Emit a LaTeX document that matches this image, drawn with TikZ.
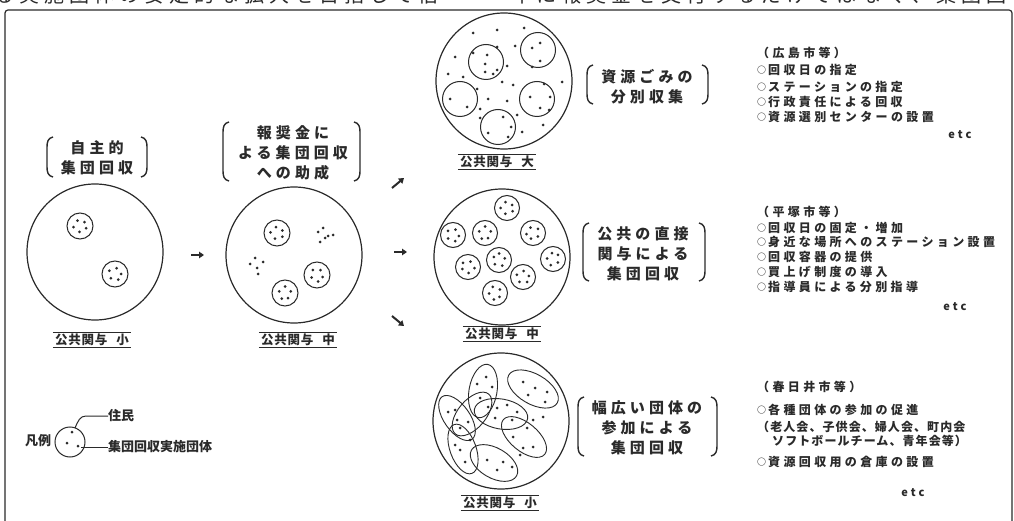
\documentclass[tikz,border=0pt]{standalone}
\usepackage{fontspec}
\usetikzlibrary{arrows.meta}
\newfontfamily\jp{Noto Sans CJK JP}
\newfontfamily\jplab[LetterSpace=27]{Noto Sans CJK JP}
\newfontfamily\jplist[LetterSpace=28]{Noto Sans CJK JP}
\newfontfamily\jpnar[LetterSpace=9]{Noto Sans CJK JP}
\newfontfamily\jpund[LetterSpace=6]{Noto Sans CJK JP}
\newfontfamily\jptop[LetterSpace=25]{Noto Sans CJK JP}
\definecolor{ink}{HTML}{2A2A2A}
\newcommand\bul{\raisebox{1pt}{\fontsize{9}{9}\selectfont ○}\hspace{2pt}}
\newcommand\mybrk[4]{%
 \draw[brk] ({#1+6},#3) .. controls ({#1+1},{#3+1}) and (#1,{#3+5}) .. (#1,{#3+10}) -- (#1,{#4-10}) .. controls (#1,{#4-5}) and ({#1+1},{#4-1}) .. ({#1+6},#4);
 \draw[brk] ({#2-6},#3) .. controls ({#2-1},{#3+1}) and (#2,{#3+5}) .. (#2,{#3+10}) -- (#2,{#4-10}) .. controls (#2,{#4-5}) and ({#2-1},{#4-1}) .. ({#2-6},#4);}
\newcommand\grp[4]{%
 \draw[smallc] (#1,#2) circle[radius=#3];
 \foreach \a/\r in {20/6.5, 95/6, 170/6.5, 245/6, 320/6}
   \fill[ink] ([shift={(\a+#4:\r)}]#1,#2) circle[radius=1.5];}
\newcommand\kyoyo[4]{%
 \node[ulab] (#1) at (#2,#3) {公共関与\hspace{9pt}#4};
 \draw[uline] (#1.north west) -- (#1.north east) (#1.south west) -- (#1.south east);}
\newcommand\mydots[1]{\foreach \p in {#1} \fill[ink] (\p) circle[radius=1.5];}
\begin{document}
\begin{tikzpicture}[x=1pt,y=-1pt,
  big/.style={circle, draw=ink, line width=1.2pt, minimum size=136pt, inner sep=0pt},
  smallc/.style={draw=ink, line width=1pt},
  ell/.style={draw=ink, line width=0.9pt},
  brk/.style={draw=ink, line width=1.4pt},
  blab/.style={align=center, text=ink, inner sep=0pt, font=\jplab\bfseries\fontsize{15}{20}\selectfont},
  ulab/.style={text=ink, inner xsep=2pt, inner ysep=1.5pt, font=\jpund\bfseries\fontsize{12.5}{13}\selectfont},
  uline/.style={draw=ink, line width=1.1pt},
  lst/.style={anchor=west, inner sep=0pt, text=ink, font=\jplist\bfseries\fontsize{12}{14}\selectfont},
  nar/.style={anchor=west, inner sep=0pt, text=ink, font=\jpnar\bfseries\fontsize{12}{14}\selectfont},
  etcl/.style={inner sep=0pt, text=ink, font=\jplist\bfseries\fontsize{11}{12}\selectfont},
  leg/.style={anchor=west, inner sep=0pt, text=ink, font=\jp\bfseries\fontsize{13}{14}\selectfont},
  toptxt/.style={anchor=base west, inner sep=0pt, text=ink, font=\jptop\fontsize{20}{22}\selectfont},
  arr/.style={draw=ink, line width=2pt, -{Triangle[length=5pt,width=6.5pt]}},
  frame/.style={draw=ink, line width=1.2pt}]
\useasboundingbox (0,0) rectangle (1014,521);
\fill[white] (0,0) rectangle (1014,521);

% cut-off text line at the top
\node[toptxt] (t1) at (-6,3) {る実施団体の安定的な拡大を目指して倍};
\node[toptxt] (t2) at (511,3) {年に報奨金を交付するだけではなく、集団回};

% frame
\draw[frame, rounded corners=3pt] (5,521) -- (5,10) -- (1012,10) -- (1012,521);

% ---------- circle 1 ----------
\node[big] (c1) at (95,252) {};
\grp{80}{226}{13}{0}
\grp{115}{274}{13}{40}
\node[blab] (l1) at (97,158) {自主的\\集団回収};
\mybrk{47}{147}{137}{177}
\kyoyo{k1}{92}{340}{小}

% arrow 1
\coordinate (a1s) at (191,255); \coordinate (a1e) at (204,255);
\draw[arr] (a1s) -- (a1e);

% ---------- circle 2 ----------
\node[big] (c2) at (294,255) {};
\grp{277}{233}{13}{15}
\grp{317}{275}{13}{60}
\grp{285}{293}{13}{100}
\mydots{{318,232},{323,228},{328,236},{325,238},{320,242},{333,235}}
\mydots{{255,258},{250,264},{263,262},{257,268},{258,274}}
\node[blab] (l2) at (293,153) {報奨金に\\よる集団回収\\への助成};
\mybrk{223}{360}{122}{181}
\kyoyo{k2}{298}{340}{中}

% arrows to the three outcomes
\coordinate (a2s) at (392,188); \coordinate (a2e) at (404,178);
\draw[arr] (a2s) -- (a2e);
\coordinate (a3s) at (394,252); \coordinate (a3e) at (407,252);
\draw[arr] (a3s) -- (a3e);
\coordinate (a4s) at (392,316); \coordinate (a4e) at (404,326);
\draw[arr] (a4s) -- (a4e);

% ---------- circle 3 (top) ----------
\node[big] (c3) at (504,81) {};
\foreach \x/\y in {486/62, 538/50, 460/99, 537/99, 498/127}
  \draw[smallc] (\x,\y) circle[radius=17.5];
\mydots{{473,33},{497,30},{524,28},{455,57},{473,53},{487,55},{497,47},{515,46},{532,48},{540,43},{540,61},{507,66},{532,67},{448,74},{463,77},{477,89},{502,82},{513,85},{544,84},{562,82},{450,99},{467,107},{488,99},{507,101},{480,109},{517,115},{530,97},{540,108},{549,110},{550,97},{480,118},{503,117},{511,127},{488,133},{508,137},{522,132},{543,125},{497,70},{485,72},{485,64},{493,74}}
\node[blab] (l3) at (647,87) {資源ごみの\\分別収集};
\mybrk{587}{708}{65}{104}
\kyoyo{k3}{497}{162}{大}

% ---------- circle 4 (middle) ----------
\node[big] (c4) at (502,257) {};
\grp{507}{208}{12.5}{10}
\grp{453}{235}{12.5}{50}
\grp{485}{233}{12.5}{100}
\grp{533}{233}{12.5}{150}
\grp{468}{267}{12.5}{200}
\grp{499}{260}{12.5}{250}
\grp{553}{259}{12.5}{300}
\grp{523}{277}{12.5}{30}
\grp{495}{293}{12.5}{80}
\node[blab] (l4) at (643,254) {公共の直接\\関与による\\集団回収};
\mybrk{583}{705}{223}{281}
\kyoyo{k4}{502}{334}{中}

% ---------- circle 5 (bottom) ----------
\node[big] (c5) at (501,421) {};
\foreach \x/\y/\r/\a/\b in {483/391/80/27/14, 533/389/-30/28/15, 457/418/-55/26/13,
    472/414/50/26/14, 501/414/-10/27/15, 524/437/-40/27/14, 463/449/-70/26/13, 494/463/-30/26/15}
  \draw[ell, rotate around={\r:(\x,\y)}] (\x,\y) ellipse [x radius=\a pt, y radius=\b pt];
\mydots{{477,384},{486,377},{492,387},{480,398},{488,407},
      {523,382},{535,388},{547,392},{545,402},{528,395},
      {448,412},{457,420},{460,428},{468,422},{455,410},
      {497,408},{507,405},{517,412},{495,418},{512,420},
      {523,448},{533,447},{513,437},{527,428},{543,417},{533,420},
      {460,450},{465,462},{455,445},{470,440},
      {487,460},{497,470},{503,462},{512,467},{520,455}}
\node[blab] (l5) at (647,428) {幅広い団体の\\参加による\\集団回収};
\mybrk{578}{717}{397}{456}
\kyoyo{k5}{500}{503}{小}

% ---------- right-hand lists ----------
\node[lst] (r1a) at (757,53) {（広島市等）};
\node[lst] (r1b) at (757,70) {\bul 回収日の指定};
\node[lst] (r1c) at (757,87) {\bul ステーションの指定};
\node[lst] (r1d) at (757,102) {\bul 行政責任による回収};
\node[lst] (r1e) at (757,117) {\bul 資源選別センターの設置};
\node[etcl] (r1f) at (960,135) {etc};

\node[lst] (r2a) at (757,212) {（平塚市等）};
\node[lst] (r2b) at (757,228) {\bul 回収日の固定・増加};
\node[lst] (r2c) at (757,242) {\bul 身近な場所へのステーション設置};
\node[lst] (r2d) at (757,257) {\bul 回収容器の提供};
\node[lst] (r2e) at (757,272) {\bul 買上げ制度の導入};
\node[lst] (r2f) at (757,287) {\bul 指導員による分別指導};
\node[etcl] (r2g) at (955,307) {etc};

\node[lst] (r3a) at (757,387) {（春日井市等）};
\node[lst] (r3b) at (757,410) {\bul 各種団体の参加の促進};
\node[nar] (r3c) at (757,427) {（老人会、子供会、婦人会、町内会};
\node[nar] (r3d) at (772,441) {ソフトボールチーム、青年会等）};
\node[lst] (r3e) at (757,462) {\bul 資源回収用の倉庫の設置};
\node[etcl] (r3f) at (913,493) {etc};

% ---------- legend ----------
\node[draw=ink, line width=1pt, circle, minimum size=30pt, inner sep=0pt] (lg) at (70,442) {};
\coordinate (d1) at (72,432); \coordinate (d2) at (67,443); \coordinate (d3) at (78,446);
\mydots{{d1},{d2},{d3}}
\node[leg, anchor=center] (lgt) at (38,441) {凡例};
\node[leg] (lga) at (108,416) {住民};
\node[leg] (lgb) at (108,447) {集団回収実施団体};
\coordinate (d1a) at (75,428);
\draw[ink, line width=1pt] (d1a) .. controls (78,421) and (80,416) .. (86,416) -- (lga.west);
\coordinate (d3a) at (81,447);
\draw[ink, line width=1pt] (d3a) -- (lgb.west);
\end{tikzpicture}
\end{document}
